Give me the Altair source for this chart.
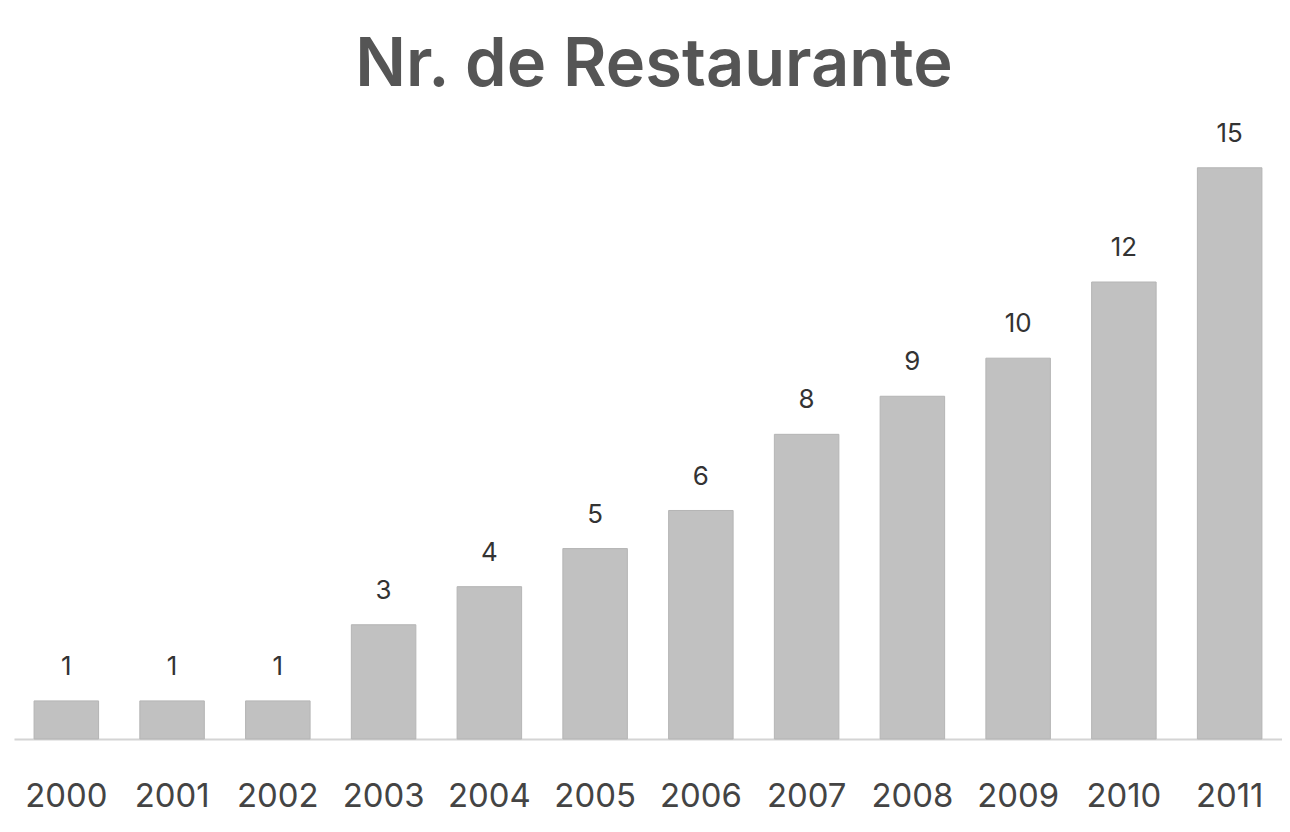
import altair as alt
import pandas as pd

years = ["2000", "2001", "2002", "2003", "2004", "2005", "2006", "2007", "2008", "2009", "2010", "2011"]
counts = [1, 1, 1, 3, 4, 5, 6, 8, 9, 10, 12, 15]

df = pd.DataFrame({"year": years, "count": counts})

base = alt.Chart(df).encode(
    x=alt.X("year:N", sort=years, title=None,
            scale=alt.Scale(paddingInner=0.39, paddingOuter=0.19),
            axis=alt.Axis(labelAngle=0, ticks=False, domain=True, domainColor="#d4d4d4",
                          domainWidth=2, labelFontSize=33, labelColor="#444444",
                          labelFont="Inter", labelPadding=42, grid=False)),
    y=alt.Y("count:Q", title=None, scale=alt.Scale(domain=[0, 15], nice=False),
            axis=None),
)

bars = base.mark_bar(color="#c1c1c1", stroke="#b5b5b5", strokeWidth=1)
labels = base.mark_text(dy=-21, baseline="bottom", fontSize=26, font="Inter",
                        color="#333333").encode(text="count:Q")

chart = (bars + labels).properties(
    width=1272, height=573,
    background="white",
    title=alt.TitleParams("Nr. de Restaurante", fontSize=67, font="Inter",
                          fontWeight=600, color="#555555", offset=21, anchor="middle", dx=6),
    autosize=alt.AutoSizeParams(type="none"),
    padding={"left": 6, "top": 159, "right": 0, "bottom": 80},
).configure_view(strokeWidth=0, stroke="transparent")

chart.save("out.html", embed_options={"renderer": "svg", "actions": False})
